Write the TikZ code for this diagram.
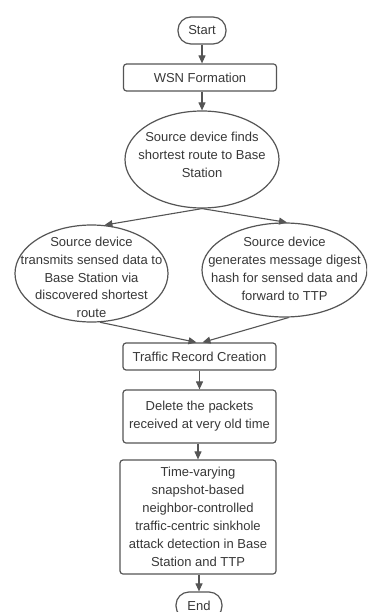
\documentclass[tikz,border=0pt]{standalone}
\usepackage{fontspec}
\setmainfont{Liberation Sans}
\usetikzlibrary{shapes.geometric,arrows.meta}
\definecolor{ln}{HTML}{555555}
\definecolor{tx}{HTML}{383838}
\newcommand{\mytxt}[2]{\raisebox{#1}[\height][\depth]{\begin{tabular}{@{}c@{}}#2\end{tabular}}}
\begin{document}
\begin{tikzpicture}[x=1pt,y=-1pt,
 every node/.style={font=\fontsize{13}{17.9}\selectfont, text=tx, align=center},
 box/.style={draw=ln, line width=1.2pt, rounded corners=3pt, inner sep=0pt},
 term/.style={draw=ln, line width=1.2pt, rounded corners=13pt, inner sep=0pt, minimum height=27pt},
 ell/.style={draw=ln, line width=1.2pt, ellipse, inner xsep=-32pt, inner ysep=-24pt},
 arr/.style={draw=ln, line width=1.1pt, -{Triangle[length=8pt,width=7pt]}}]
\useasboundingbox (0,0) rectangle (367,612);
\clip (0,0) rectangle (367,612);
\fill[white] (0,0) rectangle (367,612);

\node[term, minimum width=48pt] (start) at (202,30.5) {Start};
\node[box, minimum width=153pt, minimum height=27pt] (wsn) at (200,77.5) {WSN Formation};
\node[ell, minimum width=154pt, minimum height=97pt] (e1) at (202,159.5)
  {\mytxt{3.5pt}{Source device finds\\shortest route to Base\\Station}};
\node[ell, minimum width=153pt, minimum height=97pt] (e2) at (91.5,273.5)
  {\mytxt{-5pt}{Source device\\transmits sensed data to\\Base Station via\\discovered shortest\\route}};
\node[ell, minimum width=165pt, minimum height=94pt] (e3) at (284.5,270)
  {\mytxt{0pt}{Source device\\generates message digest\\hash for sensed data and\\forward to TTP}};
\node[box, minimum width=153pt, minimum height=27pt] (traffic) at (199.5,356.5) {Traffic Record Creation};
\node[box, minimum width=153pt, minimum height=53pt] (delete) at (199.5,416.5)
  {Delete the packets\\received at very old time};
\node[box, minimum width=156pt, minimum height=114pt] (time) at (198,517)
  {Time-varying\\snapshot-based\\neighbor-controlled\\traffic-centric sinkhole\\attack detection in Base\\Station and TTP};
\node[term, minimum width=46pt] (end) at (199,605.5) {End};

\draw[arr] (start.south) -- (start.south |- wsn.north);
\draw[arr] (e1.north |- wsn.south) -- (e1.north);
\draw[arr] (e1.south) -- (e2.75);
\draw[arr] (e1.south) -- (e3.87);
\draw[arr] (e2.-80) -- ([xshift=-3pt]traffic.north);
\draw[arr] (e3.-85) -- ([xshift=3pt]traffic.north);
\draw[arr] (traffic.south) -- (delete.north);
\draw[arr] (time.north |- delete.south) -- (time.north);
\draw[arr] (end.north |- time.south) -- (end.north);
\end{tikzpicture}
\end{document}
